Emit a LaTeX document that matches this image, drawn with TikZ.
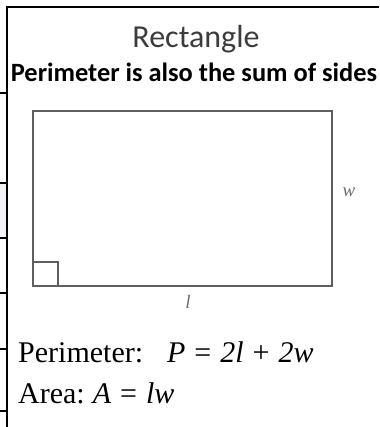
\documentclass[tikz,border=0pt]{standalone}
\usepackage{fontspec}
\setmainfont{Liberation Serif}
\newfontfamily\calibri{Carlito}
\definecolor{bandgray}{RGB}{242,243,247}
\definecolor{linegray}{RGB}{95,95,95}
\definecolor{labelgray}{RGB}{110,110,110}
\definecolor{titlegray}{RGB}{60,60,60}
\newcommand{\opsp}[1]{\hspace{9pt}#1\hspace{9pt}}
\begin{document}
\begin{tikzpicture}[x=1pt,y=-1pt,
  frame/.style={draw=black,line width=1.6pt},
  shapeline/.style={draw=linegray,line width=1.8pt},
  sidelabel/.style={text=labelgray,font=\fontsize{19}{21}\selectfont\itshape,inner sep=0pt},
  formula/.style={anchor=base west,inner sep=0pt,font=\fontsize{30}{33}\selectfont}]
\useasboundingbox (0,0) rectangle (379,427);
% light gray band at left
\fill[bandgray] (0,184) rectangle (6,237);
% frame
\draw[frame] (7,427) -- (7,7) -- (379,7);
\foreach \yy in {93,183,238,293,349,411} {\draw[frame] (0,\yy) -- (7,\yy);}
% titles
\node[anchor=base,inner sep=0pt,text=titlegray,font=\calibri\fontsize{32}{35}\selectfont] (title) at (196,48) {Rectangle};
\node[anchor=base,inner sep=0pt,font=\calibri\bfseries\fontsize{26.4}{30}\selectfont] (sub) at (194,82) {Perimeter is also the sum of sides};
% rectangle
\coordinate (rtl) at (33,111);
\coordinate (rbr) at (332,286);
\draw[shapeline] (rtl) rectangle (rbr);
\draw[shapeline,line width=1.3pt] (33,262) -- (58,262) -- (58,286);
\node[sidelabel] (w) at (349,192) {w};
\node[sidelabel] (l) at (188,302) {l};
% formulas
\node[formula] (per) at (18,362) {Perimeter:\hspace{24pt}{\itshape P}\opsp{=}{\itshape 2l}\opsp{+}{\itshape 2w}};
\node[formula] (area) at (18,403) {Area:\hspace{8pt}{\itshape A}\opsp{=}{\itshape lw}};
\end{tikzpicture}
\end{document}
